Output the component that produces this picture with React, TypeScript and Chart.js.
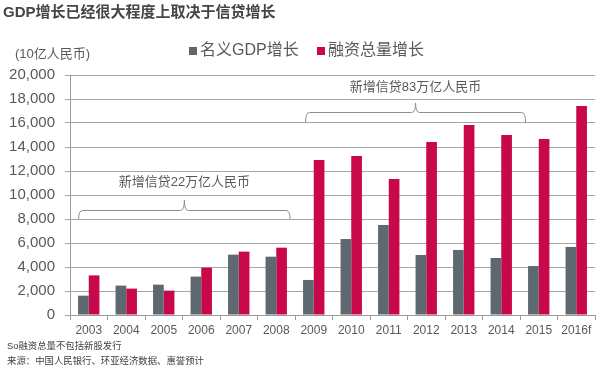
import React, { useEffect, useRef } from "react";
import { Chart, registerables } from "chart.js";

Chart.register(...registerables);

const title = "GDP增长已经很大程度上取决于信贷增长";
const unitLabel = "(10亿人民币)";
const categories = ["2003", "2004", "2005", "2006", "2007", "2008", "2009", "2010", "2011", "2012", "2013", "2014", "2015", "2016f"];
const gdpLabel = "名义GDP增长";
const gdpValues = [1610, 2450, 2530, 3200, 5030, 4860, 2920, 6330, 7500, 5000, 5420, 4750, 4080, 5670];
const creditLabel = "融资总量增长";
const creditValues = [3300, 2200, 2030, 3950, 5280, 5610, 12920, 13250, 11330, 14420, 15830, 15000, 14670, 17420];
const yTicksMax = 20000;
const yStep = 2000;
const braces = [
  { text: "新增信贷22万亿人民币", from: -0.27, to: 5.37, level: 8750, ends: 8000, peak: 9580, textLevel: 11080 },
  { text: "新增信贷83万亿人民币", from: 5.78, to: 11.65, level: 16900, ends: 16000, peak: 17670, textLevel: 19000 },
];
const footnotes = ["So融资总量不包括新股发行", "来源：中国人民银行、环亚经济数据、惠誉预计"];

const FONT = '"Liberation Sans", Arial, "Noto Sans CJK SC", sans-serif';
const GRAY = "#5e6870";
const RED = "#c8084a";
const TEXT = "#595959";

const decorPlugin = {
  id: "decor",
  afterDraw(chart: any) {
    const ctx = chart.ctx;
    const x = chart.scales.x;
    const y = chart.scales.y;
    ctx.save();
    // title
    ctx.fillStyle = "#454545";
    ctx.font = `bold 15px ${FONT}`;
    ctx.textBaseline = "middle";
    ctx.textAlign = "left";
    ctx.fillText(title, 3, 13);
    // unit
    ctx.fillStyle = TEXT;
    ctx.font = `13px ${FONT}`;
    ctx.fillText(unitLabel, 15, 54);
    // legend
    ctx.font = `16px ${FONT}`;
    ctx.fillStyle = GRAY;
    ctx.fillRect(189, 47, 8, 8);
    ctx.fillStyle = TEXT;
    ctx.fillText(gdpLabel, 200, 51);
    ctx.fillStyle = RED;
    ctx.fillRect(317, 47, 8, 8);
    ctx.fillStyle = TEXT;
    ctx.fillText(creditLabel, 328, 51);
    // footnotes
    ctx.fillStyle = "#404040";
    ctx.font = `9.4px ${FONT}`;
    ctx.fillText(footnotes[0], 7, 346);
    ctx.fillText(footnotes[1], 7, 361);
    // braces
    for (const b of braces) {
      const x1 = x.getPixelForValue(b.from);
      const x2 = x.getPixelForValue(b.to);
      const xm = (x1 + x2) / 2;
      const yl = Math.round(y.getPixelForValue(b.level)) + 0.5;
      const ye = y.getPixelForValue(b.ends);
      const yp = y.getPixelForValue(b.peak);
      ctx.strokeStyle = "#8a8f93";
      ctx.lineWidth = 1;
      ctx.beginPath();
      ctx.moveTo(x1, ye);
      ctx.quadraticCurveTo(x1, yl, x1 + 4, yl);
      ctx.lineTo(xm - 4, yl);
      ctx.quadraticCurveTo(xm, yl, xm, yp);
      ctx.quadraticCurveTo(xm, yl, xm + 4, yl);
      ctx.lineTo(x2 - 4, yl);
      ctx.quadraticCurveTo(x2, yl, x2, ye);
      ctx.stroke();
      ctx.fillStyle = TEXT;
      ctx.font = `13px ${FONT}`;
      ctx.textAlign = "center";
      ctx.fillText(b.text, xm, y.getPixelForValue(b.textLevel));
      ctx.textAlign = "left";
    }
    ctx.restore();
  },
};

export default function App() {
  const ref = useRef<HTMLCanvasElement>(null);
  useEffect(() => {
    const chart = new Chart(ref.current as HTMLCanvasElement, {
      type: "bar",
      data: {
        labels: categories,
        datasets: [
          { label: gdpLabel, data: gdpValues, backgroundColor: GRAY },
          { label: creditLabel, data: creditValues, backgroundColor: RED },
        ],
      },
      options: {
        animation: false,
        responsive: false,
        maintainAspectRatio: false,
        layout: { padding: { top: 75, left: 8, right: 6, bottom: 34 } },
        datasets: { bar: { categoryPercentage: 0.57, barPercentage: 1 } },
        plugins: { legend: { display: false }, tooltip: { enabled: false }, title: { display: false } },
        scales: {
          x: {
            grid: { display: true, drawOnChartArea: false, drawTicks: true, tickLength: 5, color: "#9a9a9a", offset: true },
            border: { display: true, color: "#9a9a9a" },
            ticks: { color: TEXT, font: { family: FONT, size: 12 }, padding: 3, maxRotation: 0, autoSkip: false },
            afterFit: (s: any) => { s.height = 20; },
          },
          y: {
            min: 0,
            max: yTicksMax,
            grid: { color: "#a6a6a6", tickLength: 5, drawTicks: true },
            border: { display: true, color: "#9a9a9a" },
            ticks: {
              stepSize: yStep,
              color: TEXT,
              padding: 10,
              font: { family: FONT, size: 15 },
              callback: (v: any) => Number(v).toLocaleString("en-US"),
            },
            afterFit: (s: any) => { s.width = 62; },
          },
        },
      },
      plugins: [decorPlugin],
    });
    return () => chart.destroy();
  }, []);
  return (
    <div style={{ position: "fixed", left: 0, top: 0, width: 601, height: 369, background: "#fff" }}>
      <canvas ref={ref} width={601} height={369} style={{ width: 601, height: 369 }} />
    </div>
  );
}
